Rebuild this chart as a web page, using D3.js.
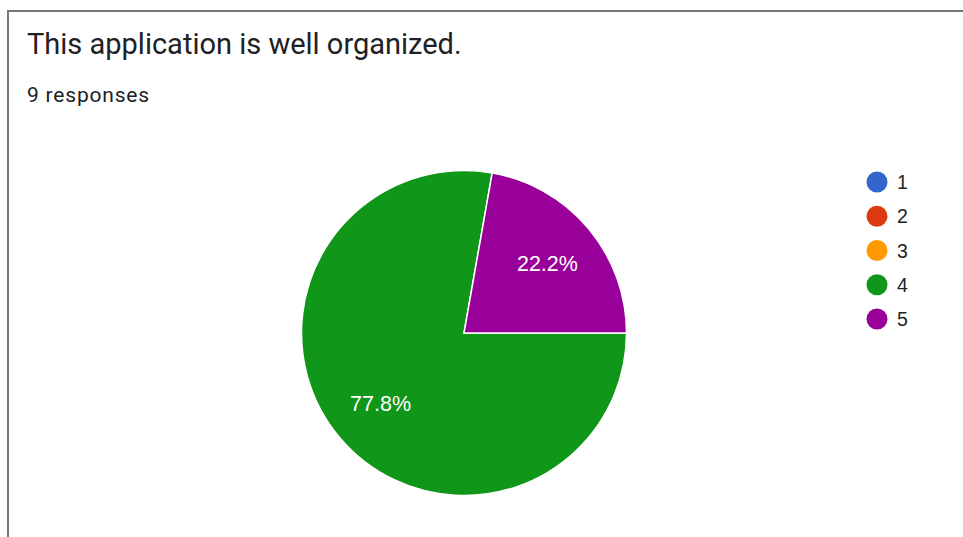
<!DOCTYPE html>
<html>
<head>
<meta charset="utf-8">
<script src="https://cdn.jsdelivr.net/npm/d3@7"></script>
<style>
  html, body { margin: 0; padding: 0; background: #fff; }
  svg { display: block; }
</style>
</head>
<body>
<svg id="chart" width="963" height="537"></svg>
<script>
// Survey answers for "This application is well organized."
const categories = ["1", "2", "3", "4", "5"];
const counts = [0, 0, 0, 7, 2];
const colors = ["#3366cc", "#dc3912", "#ff9900", "#109618", "#990099"];
const title = "This application is well organized.";
const subtitle = "9 responses";

const svg = d3.select("#chart");
const W = 963, H = 537;

// card frame (top and left edges visible)
svg.append("rect").attr("x", 0).attr("y", 0).attr("width", W).attr("height", H).attr("fill", "#fff");
svg.append("line").attr("x1", 8).attr("x2", W).attr("y1", 11).attr("y2", 11)
  .attr("stroke", "#777").attr("stroke-width", 2);
svg.append("line").attr("x1", 8).attr("x2", 8).attr("y1", 10).attr("y2", H)
  .attr("stroke", "#777").attr("stroke-width", 2);

svg.append("text").attr("x", 27).attr("y", 54)
  .attr("font-family", "Roboto, 'Open Sans', sans-serif").attr("font-size", 29)
  .attr("fill", "#202124").text(title);
svg.append("text").attr("x", 27).attr("y", 102)
  .attr("font-family", "Roboto, 'Open Sans', sans-serif").attr("font-size", 21)
  .attr("letter-spacing", 0.8)
  .attr("fill", "#202124").text(subtitle);

// pie
const cx = 464, cy = 333, r = 162.5;
const data = categories.map((c, i) => ({ cat: c, value: counts[i], color: colors[i] }));
const total = d3.sum(counts);
const pie = d3.pie().value(d => d.value).sort(null)
  .startAngle(Math.PI / 2).endAngle(Math.PI / 2 + 2 * Math.PI);
const arcs = pie(data).filter(a => a.data.value > 0);
const arc = d3.arc().innerRadius(0).outerRadius(r);
const labelArc = d3.arc().innerRadius(r * 0.67).outerRadius(r * 0.67);

const g = svg.append("g").attr("transform", `translate(${cx},${cy})`);
g.selectAll("path").data(arcs).join("path")
  .attr("d", arc)
  .attr("fill", d => d.data.color)
  .attr("stroke", "#fff").attr("stroke-width", 1.5);

g.selectAll("text.lbl").data(arcs).join("text")
  .attr("class", "lbl")
  .attr("transform", d => `translate(${labelArc.centroid(d)})`)
  .attr("text-anchor", "middle").attr("dy", "0.36em")
  .attr("font-family", "'Liberation Sans', Arial, sans-serif").attr("font-size", 21.5)
  .attr("fill", "#fff")
  .text(d => d3.format(".1f")(d.data.value / total * 100) + "%");

// legend
const ly = d3.scalePoint().domain(categories).range([182, 319]);
const leg = svg.append("g");
const items = leg.selectAll("g").data(data).join("g")
  .attr("transform", d => `translate(877,${ly(d.cat)})`);
items.append("circle").attr("r", 10.5).attr("fill", d => d.color);
items.append("text").attr("x", 20).attr("dy", "0.36em")
  .attr("font-family", "'Liberation Sans', Arial, sans-serif").attr("font-size", 19.5)
  .attr("fill", "#222").text(d => d.cat);
</script>
</body>
</html>
